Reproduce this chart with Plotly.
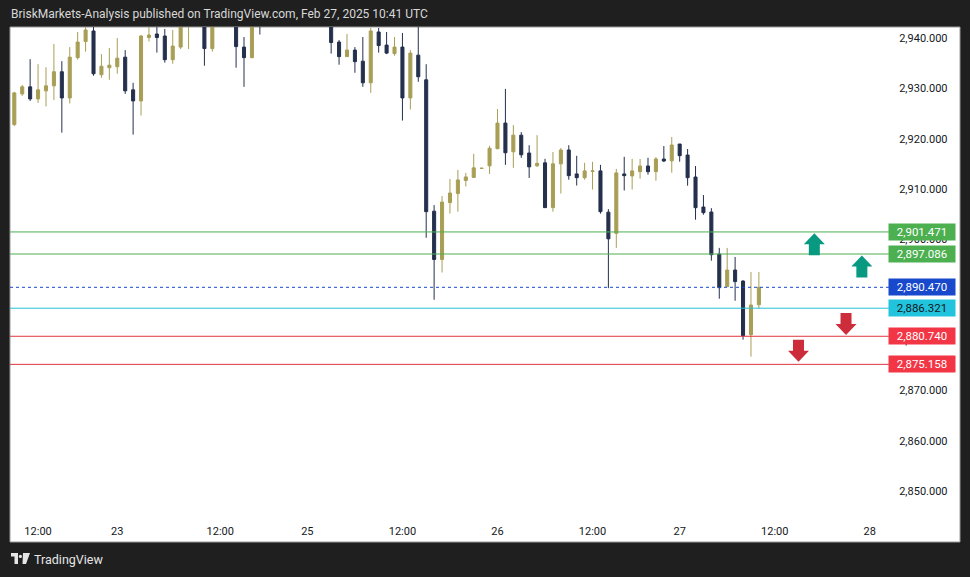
import plotly.graph_objects as go

# ---------------- data ----------------
opens = [2922.8, 2928.9, 2930.3, 2927.9, 2929.5, 2930.5, 2933.3, 2928.1, 2936.1, 2939.3,
         2941.4, 2932.7, 2934.1, 2934.3, 2936.2, 2929.7, 2927.5, 2940.1, 2940.8, 2940.4,
         2935.7, 2938.2, 2943.2, 2945.0, 2944.0, 2937.9, 2944.3, 2946.2, 2944.6, 2938.2,
         2936.1, 2944.5, 2943.2, 2946.0, 2948.6, 2946.3, 2947.2, 2949.8, 2946.9, 2945.1,
         2944.4, 2939.2, 2936.3, 2937.6, 2935.4, 2931.1, 2941.2, 2938.6, 2936.9, 2938.2,
         2928.1, 2936.6, 2931.7, 2905.6, 2896.0, 2907.3, 2909.1, 2911.7, 2912.3, 2914.1,
         2914.6, 2918.0, 2923.1, 2917.4, 2920.7, 2917.15, 2914.6, 2915.2, 2906.3, 2915.0,
         2917.75, 2913.0, 2912.25, 2913.5, 2913.6, 2905.4, 2901.2, 2913.0, 2912.6, 2913.44,
         2914.57, 2913.44, 2915.96, 2915.6, 2918.94, 2916.75, 2912.38, 2906.42, 2905.43, 2897.08,
         2890.6, 2893.9, 2891.7, 2881.06, 2887.0]
highs = [2929.3, 2930.7, 2935.8, 2934.8, 2934.2, 2938.8, 2935.4, 2938.2, 2941.2, 2942.8,
         2943.5, 2936.8, 2938.0, 2940.0, 2937.6, 2931.1, 2940.6, 2943.0, 2943.5, 2941.8,
         2941.6, 2944.5, 2946.0, 2947.5, 2945.5, 2945.0, 2947.0, 2947.8, 2945.8, 2940.2,
         2944.8, 2946.0, 2947.0, 2949.5, 2950.2, 2948.0, 2951.0, 2950.6, 2948.4, 2947.3,
         2946.0, 2939.6, 2940.8, 2938.2, 2940.2, 2942.0, 2942.0, 2941.2, 2940.2, 2941.0,
         2937.6, 2944.0, 2934.8, 2906.8, 2908.6, 2912.0, 2913.8, 2913.2, 2917.0, 2914.15,
         2918.6, 2925.9, 2929.9, 2922.7, 2921.3, 2918.7, 2920.7, 2916.0, 2917.35, 2918.15,
         2918.7, 2916.6, 2915.2, 2915.4, 2914.8, 2906.0, 2914.0, 2916.4, 2916.0, 2915.96,
         2916.2, 2916.36, 2918.54, 2920.33, 2918.94, 2917.95, 2914.57, 2908.8, 2906.2, 2898.3,
         2898.3, 2896.5, 2891.9, 2893.5, 2893.5]
lows = [2922.5, 2928.5, 2927.5, 2927.1, 2926.4, 2927.7, 2921.2, 2927.0, 2935.7, 2937.3,
        2932.5, 2932.1, 2931.7, 2932.9, 2928.9, 2920.8, 2924.6, 2939.3, 2937.1, 2935.1,
        2934.9, 2937.8, 2937.8, 2943.0, 2934.5, 2937.3, 2943.2, 2943.0, 2934.1, 2930.3,
        2936.0, 2940.7, 2942.8, 2944.8, 2945.5, 2944.0, 2946.1, 2946.0, 2944.2, 2943.5,
        2936.9, 2934.7, 2936.3, 2933.1, 2930.3, 2929.1, 2937.1, 2936.8, 2936.5, 2923.6,
        2925.8, 2931.3, 2900.3, 2888.0, 2893.4, 2905.1, 2905.5, 2910.5, 2912.3, 2914.05,
        2913.0, 2918.0, 2914.8, 2914.2, 2916.2, 2912.2, 2914.4, 2906.3, 2905.5, 2909.1,
        2911.85, 2910.7, 2911.85, 2909.9, 2905.1, 2890.3, 2898.3, 2909.7, 2909.9, 2912.05,
        2912.85, 2911.65, 2915.36, 2913.24, 2915.43, 2910.66, 2903.9, 2904.9, 2895.76, 2888.2,
        2890.6, 2887.8, 2880.07, 2876.7, 2886.2]
closes = [2929.1, 2930.3, 2927.9, 2929.7, 2930.5, 2933.3, 2928.1, 2936.2, 2939.2, 2941.6,
          2932.9, 2934.4, 2934.6, 2936.0, 2929.5, 2927.5, 2940.4, 2940.6, 2940.1, 2935.7,
          2938.4, 2943.6, 2945.1, 2944.0, 2937.9, 2944.3, 2946.2, 2944.6, 2938.3, 2936.1,
          2943.8, 2943.2, 2946.0, 2948.6, 2946.3, 2947.2, 2949.8, 2946.9, 2945.1, 2944.4,
          2939.1, 2936.3, 2937.6, 2935.3, 2931.1, 2941.4, 2938.5, 2937.0, 2938.2, 2928.1,
          2937.0, 2932.3, 2905.5, 2896.0, 2907.4, 2909.2, 2911.8, 2912.4, 2914.2, 2914.12,
          2918.1, 2923.1, 2917.2, 2920.7, 2916.8, 2914.4, 2915.1, 2906.3, 2915.0, 2917.75,
          2912.65, 2912.25, 2913.6, 2913.6, 2905.5, 2900.1, 2913.2, 2912.65, 2913.6, 2914.57,
          2913.44, 2915.96, 2915.56, 2918.74, 2916.62, 2912.25, 2906.29, 2905.3, 2896.95, 2890.4,
          2893.9, 2891.6, 2880.86, 2886.95, 2890.47]
bar_index = list(range(len(opens)))

time_tick_pos = [3, 13, 26, 37, 49, 61, 73, 84, 96, 108]
time_tick_text = ["12:00", "23", "12:00", "25", "12:00", "26", "12:00", "27", "12:00", "28"]

price_ticks = [2850, 2860, 2870, 2880, 2890, 2900, 2910, 2920, 2930, 2940]

level_prices = [2901.471, 2897.086, 2890.470, 2886.321, 2880.740, 2875.158]
level_line_colors = ["#4caf50", "#4caf50", "#1848cc", "#26c0d6", "#e0353f", "#e0353f"]
level_label_bg = ["#4caf50", "#4caf50", "#1848cc", "#22c3dc", "#f23645", "#f23645"]
level_label_fg = ["#ffffff", "#ffffff", "#ffffff", "#131722", "#ffffff", "#ffffff"]
level_dash = ["solid", "solid", "dot", "solid", "solid", "solid"]

arrow_x = [101, 107, 105, 99]
arrow_tip = [2901.2, 2896.8, 2881.0, 2875.7]
arrow_dir = ["up", "up", "down", "down"]

title_text = "BriskMarkets-Analysis published on TradingView.com, Feb 27, 2025 10:41 UTC"

# ---------------- layout geometry ----------------
W, H = 970, 577
ML, MR, MT, MB = 10, 82, 27, 62
PW, PH = W - ML - MR, H - MT - MB
X_RANGE = [-0.543, 110.3]
Y_RANGE = [2845.23, 2942.19]

def px_x(px):
    return (px - ML) / PW

def px_y(py):
    return (H - MB - py) / PH

UP_COL = "#a89e55"
DN_COL = "#24304c"
FONT = "Roboto"

fig = go.Figure()
fig.add_trace(go.Candlestick(
    x=bar_index, open=opens, high=highs, low=lows, close=closes,
    increasing=dict(line=dict(color=UP_COL, width=1), fillcolor=UP_COL),
    decreasing=dict(line=dict(color=DN_COL, width=1), fillcolor=DN_COL),
    whiskerwidth=0, hoverinfo="skip", showlegend=False,
))

shapes = []
# white chart panel with grey frame
shapes.append(dict(type="rect", xref="paper", yref="paper", layer="below",
                   x0=px_x(10), x1=px_x(960), y0=px_y(542), y1=px_y(27),
                   fillcolor="#ffffff", line=dict(color="#9a9a9a", width=1)))
# horizontal levels
for p, c, d in zip(level_prices, level_line_colors, level_dash):
    shapes.append(dict(type="line", xref="paper", yref="y", x0=0, x1=1.001, y0=p, y1=p,
                       line=dict(color=c, width=1, dash=d), layer="above"))
# arrows
up_path = "M 0 0 L 10.5 -11 L 5.5 -11 L 5.5 -22 L -5.5 -22 L -5.5 -11 L -10.5 -11 Z"
down_path = "M 0 0 L 10.5 11 L 5.5 11 L 5.5 22 L -5.5 22 L -5.5 11 L -10.5 11 Z"
for ax_, ay_, d in zip(arrow_x, arrow_tip, arrow_dir):
    shapes.append(dict(type="path", xref="x", yref="y", xsizemode="pixel", ysizemode="pixel",
                       xanchor=ax_, yanchor=ay_,
                       path=up_path if d == "up" else down_path,
                       fillcolor="#089981" if d == "up" else "#cd2d3b",
                       line=dict(width=0), layer="above"))
# TradingView logo (footer)
shapes.append(dict(type="rect", xref="paper", yref="paper", x0=px_x(11), x1=px_x(18),
                   y0=px_y(556.5), y1=px_y(553), fillcolor="#e6e6e6", line=dict(width=0)))
shapes.append(dict(type="rect", xref="paper", yref="paper", x0=px_x(14.5), x1=px_x(18),
                   y0=px_y(564), y1=px_y(553), fillcolor="#e6e6e6", line=dict(width=0)))
shapes.append(dict(type="circle", xref="paper", yref="paper", x0=px_x(18.8), x1=px_x(22),
                   y0=px_y(558), y1=px_y(554.8), fillcolor="#e6e6e6", line=dict(width=0)))
shapes.append(dict(type="path", xref="paper", yref="paper",
                   path=f"M {px_x(23)} {px_y(553)} L {px_x(30)} {px_y(553)} L {px_x(26)} {px_y(564)} L {px_x(22.5)} {px_y(564)} Z",
                   fillcolor="#e6e6e6", line=dict(width=0)))

annotations = []
annotations.append(dict(xref="paper", yref="paper", x=px_x(9), y=px_y(14), xanchor="left",
                        yanchor="middle", text=title_text, showarrow=False,
                        font=dict(family=FONT, size=12, color="#d8d8d8")))
annotations.append(dict(xref="paper", yref="paper", x=px_x(32), y=px_y(559), xanchor="left",
                        yanchor="middle", text="TradingView", showarrow=False,
                        font=dict(family=FONT, size=12.5, color="#e6e6e6")))
for p, bg, fg in zip(level_prices, level_label_bg, level_label_fg):
    annotations.append(dict(xref="paper", yref="y", x=px_x(922), y=p, xanchor="center",
                            yanchor="middle", text=f"{p:,.3f}", showarrow=False,
                            bgcolor=bg, width=66, height=16, borderpad=0,
                            font=dict(family=FONT, size=11.5, color=fg)))

fig.update_layout(
    width=W, height=H,
    margin=dict(l=ML, r=MR, t=MT, b=MB, pad=0),
    paper_bgcolor="#1f1f1f",
    plot_bgcolor="rgba(0,0,0,0)",
    boxgap=0.45,
    showlegend=False,
    shapes=shapes,
    annotations=annotations,
    xaxis=dict(range=X_RANGE, rangeslider=dict(visible=False), showgrid=False, zeroline=False,
               showline=False, tickmode="array", tickvals=time_tick_pos, ticktext=time_tick_text,
               ticks="outside", ticklen=6, tickcolor="rgba(0,0,0,0)",
               tickfont=dict(family=FONT, size=11, color="#131722"), fixedrange=True),
    yaxis=dict(range=Y_RANGE, side="right", showgrid=False, zeroline=False, showline=False,
               tickmode="array", tickvals=price_ticks, ticktext=[f"{v:,.3f}" for v in price_ticks],
               ticks="outside", ticklen=8, tickcolor="rgba(0,0,0,0)",
               tickfont=dict(family=FONT, size=11, color="#131722"), fixedrange=True),
)

fig.write_html("out.html", config={"displayModeBar": False})
